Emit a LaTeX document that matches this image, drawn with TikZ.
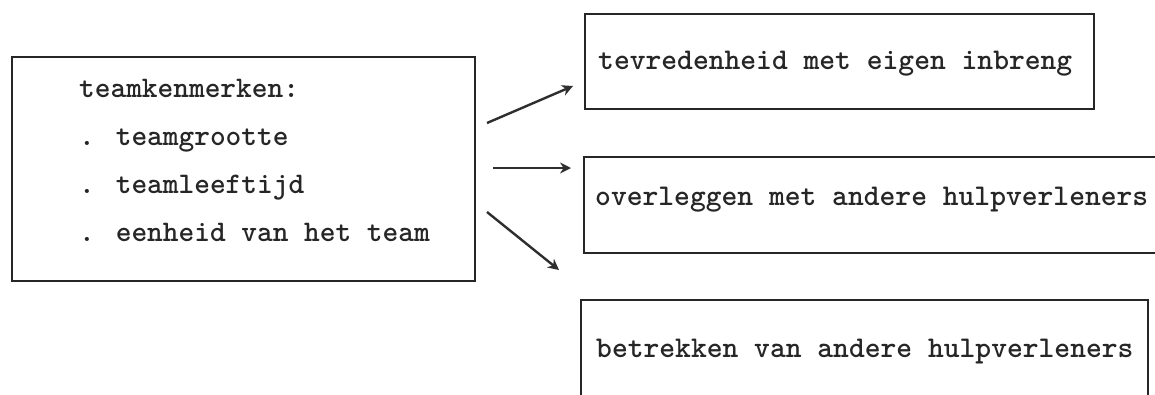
\documentclass[tikz,border=0pt]{standalone}
\usetikzlibrary{arrows.meta}
\begin{document}
\begin{tikzpicture}[x=1pt,y=-1pt,
  box/.style={draw=black!85, line width=1.7pt, rectangle, inner sep=0pt, anchor=north west},
  lbl/.style={font=\fontsize{29.9}{31}\selectfont\ttfamily\bfseries, anchor=base west, inner sep=0pt, text=black!85},
  rlbl/.style={font=\fontsize{30.1}{31}\selectfont\ttfamily\bfseries, anchor=base west, inner sep=0pt, text=black!85},
  conn/.style={line width=2.4pt, draw=black!82, -{Stealth[length=11pt,width=11pt]}}]
\useasboundingbox (0,0) rectangle (1155,394);
\clip (0,0) rectangle (1155,394);
% boxes
\node[box, minimum width=463pt, minimum height=224pt] (kenm) at (11,56) {};
\node[box, minimum width=509pt, minimum height=95pt] (tevr) at (584,13) {};
\node[box, minimum width=600pt, minimum height=96pt] (overl) at (583,156) {};
\node[box, minimum width=567pt, minimum height=100pt] (betr) at (580,299) {};
% texts
\node[lbl] (t0) at (79,97) {teamkenmerken:};
\node[lbl] (t1) at (79,145) {. teamgrootte};
\node[lbl] (t2) at (79,193) {. teamleeftijd};
\node[lbl] (t3) at (79,241) {. eenheid van het team};
\node[rlbl] (r1) at (598,69) {tevredenheid met eigen inbreng};
\node[rlbl] (r2) at (595,205) {overleggen met andere hulpverleners};
\node[rlbl] (r3) at (596,357) {betrekken van andere hulpverleners};
% connectors
\coordinate (a1s) at (487,123); \coordinate (a1e) at (573,86);
\coordinate (a2s) at (493,168); \coordinate (a2e) at (571,168);
\coordinate (a3s) at (487,212); \coordinate (a3e) at (559,270);
\draw[conn] (a1s) -- (a1e);
\draw[conn] (a2s) -- (a2e);
\draw[conn] (a3s) -- (a3e);
\end{tikzpicture}
\end{document}
